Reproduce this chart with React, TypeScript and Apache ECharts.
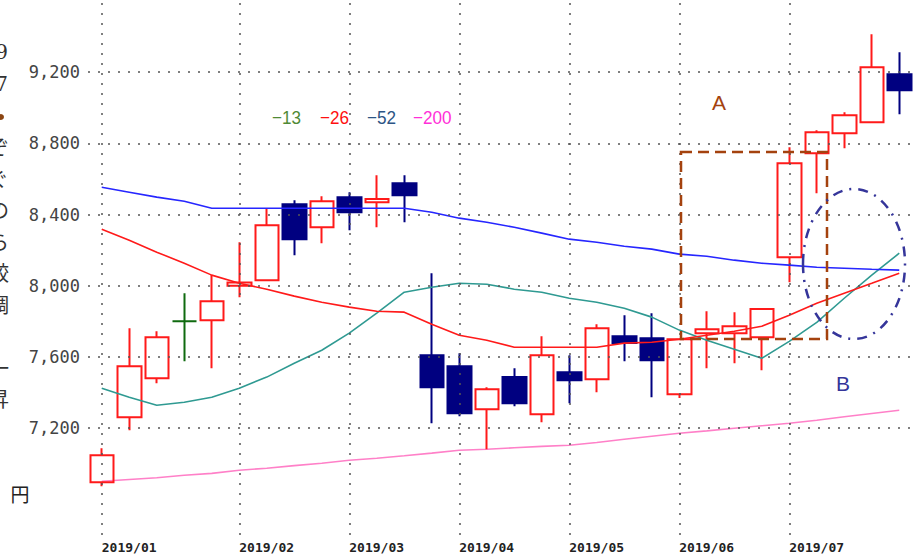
import React, { useEffect, useRef } from "react";
import * as echarts from "echarts";

// Weekly categories (first trading day of each week)
const categories = [
  "2019/01/04", "2019/01/07", "2019/01/15", "2019/01/21", "2019/01/28",
  "2019/02/04", "2019/02/12", "2019/02/18", "2019/02/25",
  "2019/03/04", "2019/03/11", "2019/03/18", "2019/03/25",
  "2019/04/01", "2019/04/08", "2019/04/15", "2019/04/22",
  "2019/05/07", "2019/05/13", "2019/05/20", "2019/05/27",
  "2019/06/03", "2019/06/10", "2019/06/17", "2019/06/24",
  "2019/07/01", "2019/07/08", "2019/07/16", "2019/07/22", "2019/07/29",
];

const opens = [6897, 7262, 7481, 7801, 7807, 8000, 8031, 8458, 8329, 8498, 8470, 8576, 7610, 7548, 7307, 7487, 7279, 7515, 7475, 7717, 7706, 7391, 7734, 7734, 7711, 8161, 8745, 8857, 8919, 9189];
const closes = [7048, 7548, 7711, 7801, 7913, 8018, 8340, 8262, 8475, 8413, 8487, 8509, 7430, 7284, 7419, 7340, 7610, 7470, 7762, 7678, 7582, 7700, 7756, 7773, 7869, 8689, 8863, 8958, 9228, 9099];
const lows = [6874, 7189, 7453, 7576, 7537, 7936, 8031, 8172, 8239, 8312, 8329, 8357, 7228, 7267, 7082, 7324, 7234, 7340, 7402, 7576, 7374, 7369, 7537, 7565, 7526, 8020, 8520, 8773, 8919, 8964];
const highs = [7088, 7762, 7745, 7958, 8060, 8245, 8436, 8481, 8503, 8526, 8621, 8621, 8071, 7621, 7430, 7537, 7717, 7610, 7784, 7835, 7846, 7705, 7857, 7852, 7869, 8779, 8874, 8975, 9413, 9312];

const ma13 = [7425, 7374, 7329, 7346, 7374, 7425, 7487, 7565, 7638, 7734, 7846, 7964, 7992, 8014, 8009, 7981, 7964, 7930, 7908, 7874, 7824, 7751, 7694, 7644, 7593, 7688, 7795, 7930, 8060, 8183];
const ma26 = [8318, 8256, 8189, 8127, 8060, 8014, 7981, 7942, 7908, 7880, 7857, 7852, 7784, 7722, 7694, 7655, 7655, 7655, 7655, 7678, 7683, 7700, 7722, 7745, 7773, 7835, 7902, 7958, 8014, 8071];
const ma52 = [8554, 8526, 8498, 8475, 8436, 8436, 8436, 8436, 8436, 8436, 8436, 8436, 8413, 8380, 8357, 8329, 8296, 8262, 8245, 8222, 8206, 8178, 8166, 8144, 8127, 8116, 8104, 8099, 8093, 8088];
const ma200 = [6902, 6912, 6922, 6936, 6946, 6964, 6975, 6990, 7003, 7020, 7031, 7045, 7060, 7076, 7082, 7090, 7098, 7104, 7120, 7138, 7155, 7172, 7185, 7200, 7214, 7228, 7245, 7264, 7283, 7301];

const yTickLabels = [7200, 7600, 8000, 8400, 8800, 9200];
const maNames = ["−13", "−26", "−52", "−200"];
const maColors = ["#2f9a92", "#ff1a1a", "#2626ff", "#ff80c8"];
const legendColors = ["#4f8a35", "#ff1010", "#2c5585", "#ff30d8"];
const sideChars = ["9", "7", "", "ぞ", "ぐ", "の", "ら", "較", "調", "）", "一", "昇"];

const isMonthStart = (i: number) =>
  i === 0 || categories[i].slice(0, 7) !== categories[i - 1].slice(0, 7);
const monthStarts = categories.filter((_, i) => isMonthStart(i));

function txt(text: string, x: number, y: number, fill: string, fontSize: number, fontFamily: string, align: string, extra: any = {}) {
  return {
    type: "text",
    x,
    y,
    ...extra,
    style: {
      text,
      fill,
      fontSize,
      fontFamily,
      textAlign: align,
      align,
      textVerticalAlign: "middle",
      verticalAlign: "middle",
    },
  };
}

export default function App() {
  const ref = useRef<HTMLDivElement>(null);
  useEffect(() => {
    if (!ref.current) return;
    const chart = echarts.init(ref.current, null, { renderer: "svg" });
    const candleData = categories.map((_, i) => [opens[i], closes[i], lows[i], highs[i]]);
    const dotted = { type: [2, 8] as any, color: "#555", width: 1.5 };
    const sans = "'Liberation Sans', Arial, sans-serif";
    const cjk = "'Noto Sans CJK JP', sans-serif";

    const legendX = [272, 320, 367, 413];
    const graphics: any[] = [];
    maNames.forEach((n, i) => {
      graphics.push(txt(n, legendX[i], 118, legendColors[i], 19, sans, "left", { scaleX: 0.9 }));
    });
    graphics.push(
      txt("A", 719, 102, "#a4420e", 21, sans, "center"),
      txt("B", 843, 383, "#35359a", 21, sans, "center"),
      {
        type: "rect",
        shape: { x: 681, y: 152, width: 146, height: 187 },
        style: { fill: "none", stroke: "#a4420e", lineWidth: 2.5, lineDash: [11, 6] },
        z: 10,
      },
      {
        type: "ellipse",
        shape: { cx: 854, cy: 264, rx: 51, ry: 75 },
        style: { fill: "none", stroke: "#35359a", lineWidth: 2.5, lineDash: [10, 7, 2, 7] },
        z: 10,
      },
      txt("円", 20, 493, "#222", 19, cjk, "center"),
      {
        type: "circle",
        shape: { cx: 1, cy: 117, r: 3 },
        style: { fill: "#8b4513" },
      }
    );
    sideChars.forEach((c, i) => {
      if (!c) return;
      const isDigit = /[0-9]/.test(c);
      graphics.push(
        txt(c, isDigit ? 8 : 9, 52 + i * 31.5, "#333", 20, isDigit ? "'DejaVu Serif', serif" : cjk, "right")
      );
    });

    const lineSeries = [ma13, ma26, ma52, ma200].map((d, i) => ({
      type: "line",
      name: maNames[i],
      data: d,
      symbol: "none",
      showSymbol: false,
      z: i === 3 ? 1 : 3,
      lineStyle: { color: maColors[i], width: 1.6 },
      ...(i === 3
        ? {
            markLine: {
              silent: true,
              symbol: ["none", "none"],
              label: { show: false },
              lineStyle: dotted,
              emphasis: { disabled: true },
              data: [
                ...yTickLabels.map((v) => ({ yAxis: v })),
                ...monthStarts.map((c) => ({ xAxis: c })),
              ],
            },
          }
        : {}),
    }));

    chart.setOption({
      animation: false,
      backgroundColor: "#ffffff",
      grid: { left: 88, right: 9, top: 1, bottom: 20, containLabel: false, outerBoundsMode: "none" },
      xAxis: {
        type: "category",
        data: categories,
        boundaryGap: true,
        axisLine: { show: false },
        axisTick: { show: false },
        splitLine: { show: false },
        axisLabel: {
          interval: (i: number) => isMonthStart(i),
          formatter: (v: string) => v.slice(0, 7),
          align: "left",
          margin: 6,
          fontFamily: "'DejaVu Sans Mono', monospace",
          fontWeight: "bold",
          fontSize: 13,
          color: "#222",
        },
      },
      yAxis: {
        type: "value",
        min: 6600,
        max: 9600,
        interval: 200,
        axisLine: { show: false },
        axisTick: { show: false },
        splitLine: { show: false },
        axisLabel: {
          formatter: (v: number) => (yTickLabels.includes(v) ? v.toLocaleString("en-US") : ""),
          fontFamily: "'DejaVu Sans Mono', monospace",
          fontSize: 17,
          color: "#444",
          margin: 8,
        },
      },
      series: [
        {
          type: "candlestick",
          data: candleData,
          barWidth: 24,
          z: 2,
          itemStyle: {
            color: "rgba(255,255,255,0)",
            color0: "#000080",
            borderColor: "#ff1a1a",
            borderColor0: "#000080",
            borderColorDoji: "#0f6a0f",
            borderWidth: 2,
          },
        },
        ...lineSeries,
      ],
      graphic: graphics,
    } as any);
    return () => chart.dispose();
  }, []);
  return (
    <div
      ref={ref}
      style={{ position: "fixed", left: 0, top: 0, width: 922, height: 555, background: "#fff" }}
    />
  );
}
